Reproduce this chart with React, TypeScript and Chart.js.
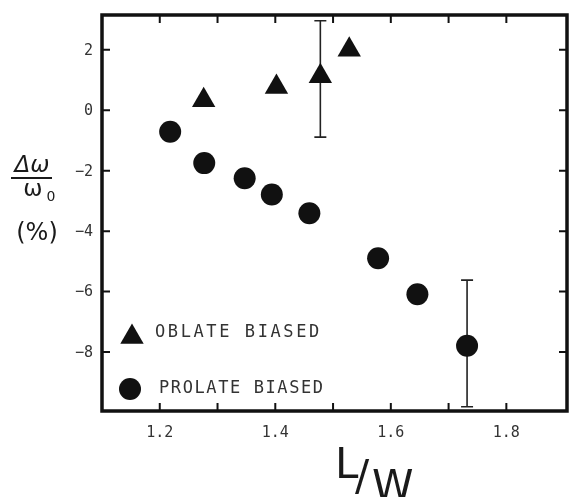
import React, { useEffect, useRef } from 'react';
import { Chart, registerables } from 'chart.js';

Chart.register(...registerables);

// ---- Data ----
const oblateX = [1.276, 1.402, 1.478, 1.528];
const oblateY = [0.33, 0.77, 1.12, 2.0];
const oblateErrLow = [null, null, -0.89, null];
const oblateErrHigh = [null, null, 2.96, null];

const prolateX = [1.218, 1.277, 1.347, 1.394, 1.459, 1.578, 1.646, 1.732];
const prolateY = [-0.71, -1.75, -2.25, -2.79, -3.41, -4.9, -6.09, -7.79];
const prolateErrLow = [null, null, null, null, null, null, null, -9.81];
const prolateErrHigh = [null, null, null, null, null, null, null, -5.62];

const xTickMarks = [1.2, 1.3, 1.4, 1.5, 1.6, 1.7, 1.8];
const xTickLabels = [1.2, 1.4, 1.6, 1.8];
const yTickValues = [2, 0, -2, -4, -6, -8];

const legendLabels = ['OBLATE BIASED', 'PROLATE BIASED'];

const INK = '#111';

function triPath(ctx: CanvasRenderingContext2D, cx: number, cy: number, r: number) {
  ctx.beginPath();
  ctx.moveTo(cx, cy - r);
  ctx.lineTo(cx + (r * Math.sqrt(3)) / 2, cy + r / 2);
  ctx.lineTo(cx - (r * Math.sqrt(3)) / 2, cy + r / 2);
  ctx.closePath();
}

const decor = {
  id: 'decor',
  beforeDatasetsDraw(chart: any) {
    const { ctx, scales } = chart;
    const x = scales.x, y = scales.y;
    ctx.save();
    ctx.strokeStyle = '#222';
    ctx.lineWidth = 1.6;
    const bars = (xs: number[], lo: (number | null)[], hi: (number | null)[]) => {
      xs.forEach((xv, i) => {
        const l = lo[i], h = hi[i];
        if (l == null || h == null) return;
        const px = x.getPixelForValue(xv);
        const p1 = y.getPixelForValue(l), p2 = y.getPixelForValue(h);
        ctx.beginPath();
        ctx.moveTo(px, p1); ctx.lineTo(px, p2);
        ctx.moveTo(px - 6, p1); ctx.lineTo(px + 6, p1);
        ctx.moveTo(px - 6, p2); ctx.lineTo(px + 6, p2);
        ctx.stroke();
      });
    };
    bars(oblateX, oblateErrLow, oblateErrHigh);
    bars(prolateX, prolateErrLow, prolateErrHigh);
    ctx.restore();
  },
  afterDraw(chart: any) {
    const { ctx, chartArea: a, scales } = chart;
    const x = scales.x, y = scales.y;
    ctx.save();
    // frame
    ctx.strokeStyle = INK;
    ctx.lineWidth = 3.5;
    ctx.strokeRect(a.left, a.top, a.right - a.left, a.bottom - a.top);
    // tick marks (inward)
    ctx.lineWidth = 2;
    xTickMarks.forEach((v) => {
      const px = x.getPixelForValue(v);
      ctx.beginPath();
      ctx.moveTo(px, a.bottom); ctx.lineTo(px, a.bottom - 8);
      ctx.moveTo(px, a.top); ctx.lineTo(px, a.top + 8);
      ctx.stroke();
    });
    yTickValues.forEach((v) => {
      const py = y.getPixelForValue(v);
      ctx.beginPath();
      ctx.moveTo(a.left, py); ctx.lineTo(a.left + 8, py);
      ctx.moveTo(a.right, py); ctx.lineTo(a.right - 8, py);
      ctx.stroke();
    });
    // tick labels
    ctx.fillStyle = '#333';
    ctx.font = '15px "DejaVu Sans Mono"';
    ctx.textAlign = 'center';
    ctx.textBaseline = 'middle';
    xTickLabels.forEach((v) => {
      ctx.fillText(v.toFixed(1), x.getPixelForValue(v), a.bottom + 22);
    });
    ctx.textAlign = 'right';
    yTickValues.forEach((v) => {
      const t = v < 0 ? '\u2212' + Math.abs(v) : String(v);
      ctx.fillText(t, a.left - 9, y.getPixelForValue(v) + 1);
    });
    // legend
    ctx.fillStyle = INK;
    triPath(ctx, a.left + 30, a.top + 322, 13.5);
    ctx.fill();
    ctx.beginPath();
    ctx.arc(a.left + 28, a.top + 374, 11, 0, Math.PI * 2);
    ctx.fill();
    ctx.fillStyle = '#333';
    ctx.font = '17px "DejaVu Sans Mono"';
    (ctx as any).letterSpacing = '2.6px';
    ctx.textBaseline = 'middle';
    ctx.textAlign = 'left';
    ctx.fillText(legendLabels[0], a.left + 53, a.top + 318);
    (ctx as any).letterSpacing = '1.6px';
    ctx.fillText(legendLabels[1], a.left + 57, a.top + 374);
    (ctx as any).letterSpacing = '0px';
    // y title: Δω / ω0 (%)
    ctx.fillStyle = '#1a1a1a';
    ctx.font = 'italic 23px "DejaVu Sans"';
    ctx.textAlign = 'center';
    ctx.textBaseline = 'alphabetic';
    ctx.fillText('\u0394\u03c9', 32, 172);
    ctx.lineWidth = 2;
    ctx.strokeStyle = '#1a1a1a';
    ctx.beginPath();
    ctx.moveTo(11, 178); ctx.lineTo(52, 178);
    ctx.stroke();
    ctx.font = '23px "DejaVu Sans"';
    ctx.fillText('\u03c9', 33, 196);
    ctx.font = '14px "DejaVu Sans"';
    ctx.fillText('0', 51, 201);
    ctx.font = '24px "DejaVu Sans"';
    ctx.fillText('(%)', 37, 240);
    // x title: L/W
    ctx.font = '42px "DejaVu Sans"';
    ctx.textAlign = 'left';
    ctx.fillText('L', 335, 478);
    ctx.fillText('/', 355, 490);
    ctx.fillText('W', 372, 500);
    ctx.restore();
  },
};

export default function App() {
  const ref = useRef<HTMLCanvasElement>(null);
  useEffect(() => {
    if (!ref.current) return;
    const chart = new Chart(ref.current, {
      type: 'scatter',
      data: {
        datasets: [
          {
            label: legendLabels[0],
            data: oblateX.map((v, i) => ({ x: v, y: oblateY[i] })),
            pointStyle: 'triangle',
            pointRadius: 13.5,
            pointHoverRadius: 13.5,
            backgroundColor: INK,
            borderColor: INK,
            borderWidth: 0,
          },
          {
            label: legendLabels[1],
            data: prolateX.map((v, i) => ({ x: v, y: prolateY[i] })),
            pointStyle: 'circle',
            pointRadius: 11,
            pointHoverRadius: 11,
            backgroundColor: INK,
            borderColor: INK,
            borderWidth: 0,
          },
        ],
      },
      options: {
        responsive: false,
        animation: false,
        events: [],
        layout: { autoPadding: false, padding: { left: 0, top: 15, right: 3, bottom: 0 } },
        plugins: { legend: { display: false }, tooltip: { enabled: false } },
        scales: {
          x: {
            type: 'linear',
            min: 1.1,
            max: 1.905,
            grid: { display: false, drawTicks: false },
            border: { display: false },
            afterFit: (s: any) => { s.height = 86; },
            ticks: { display: false },
          },
          y: {
            type: 'linear',
            min: -9.95,
            max: 3.15,
            grid: { display: false, drawTicks: false },
            border: { display: false },
            afterFit: (s: any) => { s.width = 102; },
            ticks: { display: false },
          },
        },
      },
      plugins: [decor],
    });
    return () => chart.destroy();
  }, []);
  return (
    <div style={{ position: 'fixed', left: 0, top: 0, width: 570, height: 497, background: '#fff' }}>
      <canvas ref={ref} width={570} height={497} style={{ display: 'block' }} />
    </div>
  );
}
